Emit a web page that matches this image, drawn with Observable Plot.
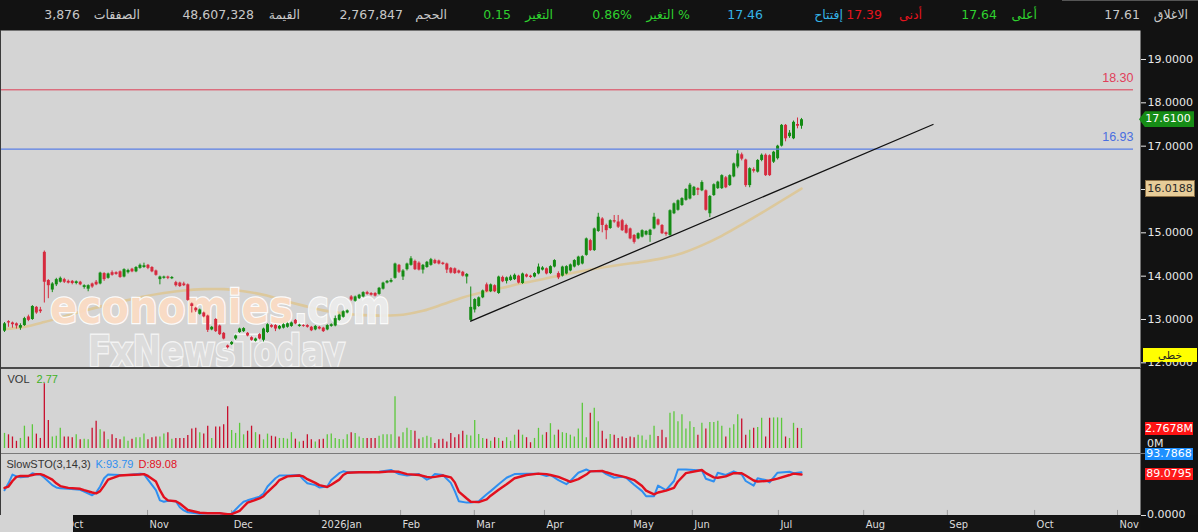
<!DOCTYPE html>
<html><head><meta charset="utf-8">
<script src="https://cdn.jsdelivr.net/npm/d3@7"></script>
<script src="https://cdn.jsdelivr.net/npm/@observablehq/plot@0.6"></script>
<style>
html,body{margin:0;padding:0;background:#111;width:1198px;height:532px;overflow:hidden;}
#root{position:relative;width:1198px;height:532px;background:#111;}
.abs{position:absolute;}
.h{position:absolute;top:7px;font-family:"DejaVu Sans",sans-serif;font-size:12.5px;line-height:16px;white-space:nowrap;direction:ltr;unicode-bidi:isolate;}
.tag{position:absolute;font-family:"DejaVu Sans",sans-serif;font-size:11px;text-align:center;white-space:nowrap;}
</style></head><body><div id="root"></div>
<script>
// ---------- DATA ----------
const hdrLabels = ["الاغلاق","أعلى","أدنى","إفتتاح","\u0627\u0644\u062A\u063A\u064A\u0631\u00A0%","التغير","الحجم","القيمة","الصفقات"];
const hdrValues = ["17.61","17.64","17.39","17.46","0.86%","0.15","2,767,847","48,607,328","3,876"];

const open = [12.73,12.95,12.92,12.90,12.80,12.86,13.06,13.00,13.28,13.22,
14.55,13.90,13.68,13.80,13.86,13.92,13.88,13.88,13.83,13.86,
13.74,13.70,13.82,13.86,13.82,14.06,13.95,14.08,14.08,14.10,
13.98,14.08,14.16,14.10,14.18,14.20,14.25,14.20,14.12,13.92,
13.95,13.98,13.94,13.85,13.84,13.82,13.80,13.36,13.26,13.12,
13.15,13.08,12.76,13.00,12.85,12.68,12.39,12.42,12.55,12.70,
12.72,12.68,12.58,12.50,12.65,12.52,12.70,12.86,12.86,12.78,
12.80,12.82,12.84,12.98,12.84,12.86,12.86,12.82,12.76,12.82,
12.80,12.76,12.84,12.85,12.98,13.05,13.15,13.52,13.42,13.48,
13.52,13.62,13.60,13.60,13.58,13.70,13.84,13.86,13.95,14.25,
13.98,14.15,14.25,14.34,14.30,14.14,14.20,14.25,14.36,14.35,
14.30,14.28,14.18,14.17,14.12,14.09,13.98,12.98,13.22,13.30,
13.50,13.80,13.64,13.78,13.60,13.97,13.88,13.90,13.92,14.00,
13.83,14.03,14.00,13.98,14.05,14.14,14.17,14.06,14.21,14.06,
14.00,14.05,14.12,14.21,14.25,14.28,14.48,14.82,14.59,15.03,
15.32,15.17,15.10,15.28,15.25,15.28,15.17,15.09,14.94,14.86,
14.90,14.95,14.94,15.09,15.30,15.17,15.00,14.94,15.44,15.52,
15.63,15.75,15.78,15.86,16.02,15.97,15.97,15.44,15.86,16.02,
16.02,16.27,16.09,16.29,16.52,16.80,16.68,16.09,16.46,16.40,
16.67,16.79,16.78,16.63,16.71,17.00,17.48,17.22,17.17,17.50,
17.46];
const high = [12.93,12.97,12.94,12.92,12.90,13.05,13.10,13.32,13.30,13.28,
14.58,13.92,13.85,13.95,13.98,13.95,13.91,13.90,13.89,13.88,
13.80,13.80,13.84,13.90,14.09,14.08,14.07,14.12,14.10,14.12,
14.17,14.16,14.18,14.22,14.28,14.30,14.27,14.22,14.14,14.00,
14.00,14.00,13.99,13.88,13.86,13.86,13.82,13.38,13.28,13.24,
13.17,13.10,12.84,13.02,12.87,12.70,12.41,12.49,12.64,12.80,
12.81,12.70,12.60,12.57,12.67,12.80,12.90,12.88,12.88,12.86,
12.90,12.92,12.94,13.00,12.89,12.88,12.88,12.84,12.86,12.84,
12.82,12.88,12.90,13.08,13.12,13.20,13.22,13.55,13.54,13.58,
13.64,13.65,13.62,13.62,13.74,13.86,13.90,13.94,14.30,14.27,
14.15,14.30,14.45,14.37,14.33,14.27,14.34,14.41,14.39,14.37,
14.32,14.30,14.20,14.19,14.14,14.11,14.06,13.75,13.48,13.52,
13.68,13.84,13.82,13.80,14.00,14.00,13.98,14.02,14.05,14.02,
14.07,14.05,14.02,14.08,14.28,14.22,14.19,14.24,14.38,14.10,
14.23,14.24,14.28,14.38,14.46,14.47,14.88,14.85,15.11,15.45,
15.35,15.20,15.30,15.40,15.40,15.31,15.20,15.11,14.96,15.00,
15.07,15.05,15.08,15.45,15.32,15.19,15.02,15.53,15.69,15.76,
15.81,16.02,16.14,16.07,16.04,16.20,15.99,15.86,16.13,16.19,
16.34,16.30,16.34,16.61,16.90,16.84,16.70,16.50,16.50,16.69,
16.82,16.82,16.80,16.88,17.02,17.50,17.50,17.36,17.58,17.65,
17.64];
const low = [12.70,12.82,12.80,12.78,12.75,12.84,12.95,12.98,13.12,13.14,
13.38,13.48,13.62,13.76,13.84,13.83,13.82,13.80,13.80,13.78,
13.70,13.64,13.72,13.78,13.80,13.88,13.93,14.00,14.02,13.95,
13.96,14.05,14.08,14.08,14.16,14.18,14.15,14.08,14.00,13.80,
13.93,13.92,13.92,13.75,13.74,13.76,13.42,13.15,13.16,13.10,
13.04,12.70,12.74,12.70,12.63,12.53,12.32,12.40,12.52,12.68,
12.70,12.60,12.50,12.48,12.53,12.48,12.68,12.80,12.72,12.76,
12.78,12.80,12.82,12.88,12.82,12.82,12.80,12.72,12.74,12.76,
12.70,12.74,12.82,12.83,12.96,13.03,13.13,13.42,13.40,13.46,
13.50,13.56,13.54,13.52,13.56,13.68,13.82,13.84,13.93,14.06,
13.90,14.12,14.23,14.13,14.12,14.05,14.18,14.23,14.27,14.26,
14.25,14.06,14.05,14.04,14.05,13.98,13.82,12.96,13.15,13.28,
13.48,13.62,13.62,13.62,13.58,13.85,13.82,13.88,13.90,13.82,
13.81,13.96,13.95,13.96,14.03,14.12,14.03,14.04,14.19,13.92,
13.98,14.03,14.10,14.19,14.23,14.26,14.46,14.57,14.57,15.01,
15.00,14.84,15.08,15.22,15.10,15.03,14.97,14.84,14.74,14.84,
14.88,14.93,14.78,15.07,15.16,14.96,14.92,14.92,15.42,15.50,
15.61,15.73,15.76,15.84,15.86,15.95,15.50,15.35,15.84,16.00,
16.00,16.02,16.07,16.27,16.48,16.66,16.05,16.04,16.38,16.38,
16.64,16.30,16.30,16.60,16.68,16.98,17.10,17.18,17.15,17.40,
17.39];
const close = [12.90,12.92,12.88,12.85,12.86,13.02,12.98,13.30,13.15,13.18,
13.86,13.78,13.82,13.92,13.95,13.86,13.84,13.83,13.87,13.80,
13.78,13.78,13.75,13.80,14.07,13.92,14.05,14.02,14.04,13.97,
14.15,14.13,14.10,14.20,14.25,14.24,14.18,14.10,14.02,13.98,
13.98,13.95,13.97,13.78,13.76,13.78,13.44,13.30,13.20,13.22,
13.06,12.75,12.82,12.72,12.65,12.55,12.35,12.47,12.62,12.78,
12.79,12.62,12.52,12.55,12.55,12.78,12.88,12.82,12.78,12.84,
12.88,12.90,12.92,12.90,12.87,12.84,12.82,12.74,12.84,12.78,
12.72,12.86,12.88,13.02,13.10,13.18,13.20,13.45,13.52,13.56,
13.62,13.58,13.56,13.54,13.72,13.84,13.88,13.90,14.28,14.09,
14.12,14.28,14.40,14.15,14.14,14.25,14.32,14.38,14.29,14.28,
14.27,14.14,14.07,14.06,14.07,14.00,14.04,13.28,13.46,13.50,
13.66,13.64,13.80,13.64,13.98,13.87,13.96,13.98,14.02,13.84,
14.05,13.98,13.97,14.06,14.21,14.19,14.05,14.22,14.36,13.96,
14.21,14.22,14.26,14.36,14.44,14.45,14.86,14.59,15.09,15.36,
15.17,15.05,15.28,15.25,15.13,15.05,14.99,14.86,14.78,14.98,
15.05,15.03,15.06,15.36,15.18,14.98,14.96,15.51,15.67,15.74,
15.79,16.00,16.10,16.05,15.98,16.16,15.52,15.84,16.11,16.17,
16.32,16.04,16.32,16.59,16.82,16.70,16.09,16.48,16.42,16.67,
16.79,16.32,16.32,16.86,17.00,17.48,17.17,17.30,17.55,17.46,
17.61];

// volume in millions
const volume = [2.1,1.9,1.6,1.0,1.4,3.1,1.6,3.3,2.0,1.4,
9.0,3.9,1.6,1.7,2.8,1.6,1.6,1.5,1.9,1.2,
1.3,1.2,2.8,3.8,2.6,2.3,1.2,1.9,1.4,1.2,
1.6,1.0,1.3,1.5,1.5,2.0,1.2,1.5,1.6,1.6,
2.0,2.2,1.3,1.4,1.4,1.4,1.8,2.7,2.8,2.2,
2.0,3.1,1.4,3.0,3.0,3.3,5.8,2.5,2.1,3.5,
1.9,2.4,3.1,2.2,1.9,1.2,2.0,1.7,1.6,1.4,
1.4,1.3,2.2,1.3,0.9,1.0,1.9,1.2,0.9,1.2,
1.3,1.9,2.0,1.4,1.25,1.2,1.9,2.2,2.1,1.6,
1.4,1.4,1.4,1.4,1.7,1.9,1.9,1.9,7.2,
1.6,2.2,2.8,2.5,2.4,1.3,1.5,1.7,1.5,0.7,
1.2,1.3,0.9,2.1,1.5,1.9,2.4,1.85,1.75,3.9,
1.95,1.4,1.3,1.0,1.5,1.4,1.0,1.5,1.0,1.85,
2.55,1.85,1.5,0.8,1.4,2.8,1.85,2.2,3.45,1.85,
2.55,2.2,2.1,1.85,1.6,2.7,6.3,1.5,4.9,5.6,
3.7,2.4,1.3,1.95,1.85,1.4,1.6,1.4,1.6,1.5,
1.85,1.75,1.15,1.85,3.1,1.65,2.55,1.5,4.9,5.1,
3.7,4.7,2.7,3.7,2.9,1.85,3.5,2.7,3.6,3.6,
3.8,3.1,1.6,2.8,3.3,4.7,4.1,1.85,2.55,2.8,
2.9,4.2,1.6,4.2,4.25,4.25,4.2,1.6,1.4,3.5,
2.8,2.77];

// 50-bar moving average, sampled every 5 bars
const maIdx = [0,5,10,15,20,25,30,35,40,45,50,55,60,65,70,75,80,85,90,95,100,105,110,115,120,125,130,135,140,145,150,155,160,165,170,175,180,185,190,195,200];
const maVal = [12.78,12.83,12.94,13.07,13.20,13.32,13.43,13.53,13.61,13.67,13.70,13.70,13.65,13.57,13.44,13.32,13.21,13.14,13.10,13.09,13.11,13.20,13.35,13.51,13.63,13.73,13.84,13.93,14.03,14.12,14.20,14.27,14.33,14.41,14.53,14.71,14.93,15.19,15.46,15.74,16.02];

// Slow stochastic
const stoIdx = [0,1,2,3,4,6,7,8,9,10,12,13,14,16,19,20,22,23,24,25,26,29,31,34,35,36,38,39,40,41,43,44,45,46,49,51,54,56,57,59,60,61,64,65,66,68,69,71,74,75,76,78,79,81,82,84,85,86,89,91,94,97,99,101,104,106,107,108,110,112,113,114,116,117,119,121,122,124,126,128,131,134,136,137,139,141,142,144,146,147,150,151,153,155,156,158,160,161,163,164,166,168,169,171,175,176,178,179,181,183,185,186,188,189,191,192,194,197,198,200];
const stoK = [55,70,89,85,83,85,92,89,89,82,66,61,59,58,56,52,44,50,63,81,89,88,88,91,90,78,55,33,30,32,31,18,11,7,4,5,5,1,4,22,30,33,41,48,63,81,87,87,88,78,70,66,61,63,77,92,96,94,94,94,95,99,90,87,90,78,82,90,88,71,53,31,28,28,31,46,53,68,82,90,91,91,86,88,77,68,75,93,100,96,96,90,82,84,82,67,53,42,42,65,55,75,100,100,98,80,74,93,88,96,89,75,65,81,77,72,93,95,92,93.79];
const stoD = [60,63,75,84,86,86,88,90,90,87,78,70,64,60,58,55,50,48,53,65,78,87,88,89,90,86,74,55,40,33,31,26,19,12,6,5,5,3,3,10,19,28,37,42,51,67,77,85,87,85,79,71,66,62,67,78,88,93,94,94,94,96,95,90,88,84,83,84,87,83,72,52,37,30,29,35,43,56,68,81,88,91,90,88,84,77,73,79,89,96,97,94,89,85,83,77,64,54,46,50,54,60,74,92,99,92,83,82,85,92,92,87,76,74,75,76,80,88,91,89.08];

const trendIdx = [117, 233];
const trendVal = [12.96, 17.50];
const resistance = 18.30, support = 16.93;
const priceTicks = [12,13,14,15,16,17,18,19];
const lastClose = 17.61, lastMA = 16.0188, lastVol = 2.7678, lastK = 93.7868, lastD = 89.0795;

const monthLabels = ["Oct","Nov","Dec","2026Jan","Feb","Mar","Apr","May","Jun","Jul","Aug","Sep","Oct","Nov"];
const monthIdx = [15,35.9,57.0,79.0,99.4,117.9,135.5,157.3,172.6,194.2,215.6,236.6,258.5,279.3];

// ---------- BUILD ----------
const root = document.getElementById("root");
const W = 1198, RIGHT = 58;
const xDomain = [-1.0, 285.07];
const GREEN = "#148b14", RED = "#d62a3e";
const VGREEN = "#5cc83c", VRED = "#c8102e";
const FONT = "DejaVu Sans, sans-serif";

function place(el, left, top){ const d = document.createElement("div"); d.className="abs"; d.style.left=left+"px"; d.style.top=top+"px"; d.appendChild(el); root.appendChild(d); return d; }
function box(css){ const d=document.createElement("div"); d.className="abs"; Object.assign(d.style, css); root.appendChild(d); return d; }

// header
box({left:"0px",top:"0px",width:W+"px",height:"30px",background:"#121212"});
box({left:"1062px",top:"0px",width:"136px",height:"1px",background:"#555"});
const hdrColors = ["#c8c8c8","#2fd02f","#e5141e","#35b2e6","#2fd02f","#2fd02f","#c8c8c8","#c8c8c8","#c8c8c8"];
const lblRight = [1188,1037,922,843,690,553,447,300,140];
const valRight = [1140,997,882,763,632,511,403,254,80];
hdrLabels.forEach((t,k)=>{
  const s=document.createElement("div"); s.className="h"; s.textContent=t; s.style.right=(W-lblRight[k])+"px"; s.style.color=hdrColors[k]; root.appendChild(s);
  const v=document.createElement("div"); v.className="h"; v.textContent=hdrValues[k]; v.style.right=(W-valRight[k])+"px"; v.style.color=hdrColors[k]; root.appendChild(v);
});

const bars = close.map((c,i)=>({i, o:open[i], h:high[i], l:low[i], c, up: c>=open[i]}));
const upBars = bars.filter(d=>d.up), dnBars = bars.filter(d=>!d.up);
const maData = maIdx.map((i,k)=>({i, v: maVal[k]}));
const trend = trendIdx.map((i,k)=>({i, v: trendVal[k]}));

// price pane
const price = Plot.plot({
  width: W, height: 338, marginTop: 0, marginBottom: 0, marginLeft: 0, marginRight: RIGHT,
  style: {background: "#121212", color: "#e8e8e8", fontFamily: FONT, fontSize: "11px"},
  x: {domain: xDomain, axis: null},
  y: {domain: [11.869, 19.669], axis: null},
  marks: [
    Plot.frame({fill: "#d4d4d4", stroke: "none"}),
    Plot.line(maData, {x: "i", y: "v", stroke: "#dcc89c", strokeWidth: 2.6, curve: "catmull-rom"}),
    Plot.ruleX(upBars, {x: "i", y1: "l", y2: "h", stroke: GREEN, strokeWidth: 1}),
    Plot.ruleX(dnBars, {x: "i", y1: "l", y2: "h", stroke: RED, strokeWidth: 1}),
    Plot.ruleX(upBars, {x: "i", y1: "o", y2: "c", stroke: GREEN, strokeWidth: 3}),
    Plot.ruleX(dnBars, {x: "i", y1: "o", y2: "c", stroke: RED, strokeWidth: 3}),
    Plot.ruleY([resistance], {stroke: "#de3e55", strokeWidth: 1, insetRight: 7}),
    Plot.ruleY([support], {stroke: "#5a7fe6", strokeWidth: 1.3, insetRight: 7}),
    Plot.text([resistance], {y: d=>d, text: d=>d.toFixed(2), frameAnchor: "right", dx: -7, dy: -12, textAnchor: "end", fill: "#e0405a", fontSize: 12.5, fontFamily: "Liberation Sans, Arial, sans-serif"}),
    Plot.text([support], {y: d=>d, text: d=>d.toFixed(2), frameAnchor: "right", dx: -7, dy: -12, textAnchor: "end", fill: "#4a6ee0", fontSize: 12.5, fontFamily: "Liberation Sans, Arial, sans-serif"}),
    Plot.line(trend, {x: "i", y: "v", stroke: "#111", strokeWidth: 1.3}),
    Plot.axisY(priceTicks, {anchor: "right", tickSize: 5, tickPadding: 2, tickFormat: d=>d.toFixed(4), fontSize: 11, label: null})
  ]
});
place(price, 0, 30);

// watermark inserted right above the moving average
(function(){
  const ns="http://www.w3.org/2000/svg";
  const g=document.createElementNS(ns,"g");
  g.setAttribute("opacity","0.92");
  g.setAttribute("text-anchor","start");
  g.innerHTML =
   '<text x="50" y="293" text-anchor="start" font-family="DejaVu Sans" font-weight="bold" font-size="46" textLength="243" lengthAdjust="spacingAndGlyphs" fill="#fcdcc4" stroke="#ffffff" stroke-width="2.5" paint-order="stroke">economies</text>'+
   '<text x="294" y="293" text-anchor="start" font-family="DejaVu Sans" font-weight="bold" font-size="46" textLength="96" lengthAdjust="spacingAndGlyphs" fill="#ececec" stroke="#ffffff" stroke-width="2.5" paint-order="stroke">.com</text>'+
   '<text x="88" y="336" text-anchor="start" font-family="DejaVu Sans" font-weight="bold" font-size="43" textLength="257" lengthAdjust="spacingAndGlyphs" fill="#dddddd" stroke="#f6f6f6" stroke-width="3" paint-order="stroke">FxNewsToday</text>';
  const lines = price.querySelectorAll('g[aria-label="line"]');
  if (lines.length) lines[0].after(g); else price.appendChild(g);
})();

// volume pane
const vn = volume.length, off = bars.length - vn;
const volData = volume.map((v,j)=>({i: j+off, v, up: bars[j+off] ? bars[j+off].up : true}));
const vol = Plot.plot({
  width: W, height: 85, marginTop: 0, marginBottom: 0, marginLeft: 0, marginRight: RIGHT,
  style: {background: "#121212", color: "#e8e8e8", fontFamily: FONT, fontSize: "11px"},
  x: {domain: xDomain, axis: null},
  y: {domain: [-0.694, 11.111], axis: null},
  marks: [
    Plot.frame({fill: "#d4d4d4", stroke: "none"}),
    Plot.ruleX(volData.filter(d=>d.up), {x: "i", y1: 0, y2: "v", stroke: VGREEN, strokeWidth: 1.3}),
    Plot.ruleX(volData.filter(d=>!d.up), {x: "i", y1: 0, y2: "v", stroke: VRED, strokeWidth: 1.3}),
    Plot.text(["VOL"], {text: d=>d, frameAnchor: "top-left", dx: 7, dy: 7, textAnchor: "start", fill: "#333", fontSize: 11, fontFamily: "Liberation Sans, Arial, sans-serif"}),
    Plot.text([volume[vn-1]], {text: d=>d.toFixed(2), frameAnchor: "top-left", dx: 36, dy: 7, textAnchor: "start", fill: "#3fb21f", fontSize: 11, fontFamily: "Liberation Sans, Arial, sans-serif"})
  ]
});
place(vol, 0, 368);

// stochastic pane
const stoData = stoIdx.map((i,k)=>({i, k: stoK[k], d: stoD[k]}));
const sto = Plot.plot({
  width: W, height: 62, marginTop: 0, marginBottom: 0, marginLeft: 0, marginRight: RIGHT,
  style: {background: "#121212", color: "#e8e8e8", fontFamily: FONT, fontSize: "11px"},
  x: {domain: xDomain, axis: null},
  y: {domain: [0, 134.78], axis: null},
  marks: [
    Plot.frame({fill: "#d4d4d4", stroke: "none"}),
    Plot.ruleX(monthIdx.slice(1), {x: d=>d, y1: 0, y2: 11, stroke: "#9a9a9a", strokeWidth: 1}),
    Plot.line(stoData, {x: "i", y: "k", stroke: "#2f8ff0", strokeWidth: 2}),
    Plot.line(stoData, {x: "i", y: "d", stroke: "#e2101e", strokeWidth: 2.4}),
    Plot.text(["SlowSTO(3,14,3)"], {text: d=>d, frameAnchor: "top-left", dx: 6, dy: 7, textAnchor: "start", fill: "#333", fontSize: 11, fontFamily: "Liberation Sans, Arial, sans-serif"}),
    Plot.text([lastK], {text: d=>"K:"+d.toFixed(2), frameAnchor: "top-left", dx: 95, dy: 7, textAnchor: "start", fill: "#2f8ff0", fontSize: 11, fontFamily: "Liberation Sans, Arial, sans-serif"}),
    Plot.text([lastD], {text: d=>"D:"+d.toFixed(2), frameAnchor: "top-left", dx: 138, dy: 7, textAnchor: "start", fill: "#e2101e", fontSize: 11, fontFamily: "Liberation Sans, Arial, sans-serif"})
  ]
});
place(sto, 0, 453);

// bottom time axis
box({left:"0px",top:"515px",width:"73px",height:"17px",background:"#d4d4d4"});
const axisPlot = Plot.plot({
  width: W, height: 17, marginTop: 0, marginBottom: 0, marginLeft: 73, marginRight: RIGHT,
  style: {background: "transparent", color: "#e0e0e0", fontFamily: FONT, fontSize: "11px"},
  x: {domain: xDomain, range: [0, W-RIGHT], axis: null},
  marks: [
    Plot.frame({fill: "#151515", stroke: "none"}),
    Plot.text(monthIdx, {x: d=>d, text: (d,k)=>monthLabels[k], dx: 2, textAnchor: "start", clip: true, fill: "#dcdcdc", fontSize: 11, fontFamily: "DejaVu Sans Condensed, DejaVu Sans, sans-serif"})
  ]
});
place(axisPlot, 0, 515);

// separators and left border
box({left:"0px",top:"367px",width:"1140px",height:"2px",background:"#4a4a4a"});
box({left:"0px",top:"453px",width:"1146px",height:"1px",background:"#7a7a7a"});
box({left:"0px",top:"30px",width:"1px",height:"485px",background:"#3a3a3a"});

// right-axis tags
const pyTop = 30, vyTop = 368, syTop = 453;
const py = v => price.scale("y").apply(v) + pyTop;
const vy = v => vol.scale("y").apply(v) + vyTop;
const sy = v => sto.scale("y").apply(v) + syTop;
function tag(text, cy, css){ const d=document.createElement("div"); d.className="tag"; d.textContent=text;
  Object.assign(d.style, {left:"1145px", width:"48px", height:"14px", lineHeight:"14px", top:(cy-7)+"px"}, css); root.appendChild(d); return d; }
tag(lastClose.toFixed(4), py(lastClose), {left:"1139px", width:"55px", height:"16px", lineHeight:"16px", top:(py(lastClose)-8)+"px", background:"#168c16", color:"#fff", paddingLeft:"3px", boxSizing:"border-box", clipPath:"polygon(0 50%, 6px 0, 100% 0, 100% 100%, 6px 100%)"});
tag(lastMA.toFixed(4), py(lastMA), {height:"15px", lineHeight:"15px", top:(py(lastMA)-8)+"px", background:"#e7cc98", color:"#2a2a2a", border:"1px solid #8a6e44"});
tag("خطي", 355, {left:"1143px", width:"54px", background:"#ffff00", color:"#222", fontSize:"10.5px"});
const t0M = document.createElement("div"); t0M.className="tag"; t0M.textContent="0M"; Object.assign(t0M.style,{left:"1147px",top:(vy(0)-11)+"px",color:"#e8e8e8",textAlign:"left"}); root.appendChild(t0M);
tag(lastVol.toFixed(4)+"M", vy(lastVol), {height:"13px", lineHeight:"13px", top:(vy(lastVol)-6)+"px", background:"#ff1414", color:"#fff"});
const yD = sy(lastD), yK = Math.min(sy(lastK), yD - 20);
tag(lastK.toFixed(4), yK, {height:"12px", lineHeight:"12px", top:(yK-6)+"px", background:"#1e90ff", color:"#fff"});
tag(lastD.toFixed(4), yD, {height:"12px", lineHeight:"12px", top:(yD-6)+"px", background:"#ff1a1a", color:"#fff"});
const z = document.createElement("div"); z.className="tag"; z.textContent="0.0000"; Object.assign(z.style,{left:"1147px",top:(sy(0)-7)+"px",color:"#e8e8e8",textAlign:"left"}); root.appendChild(z);
box({left:"1141px",top:Math.round(sy(0))+"px",width:"5px",height:"1px",background:"#ddd"});
</script></body></html>
